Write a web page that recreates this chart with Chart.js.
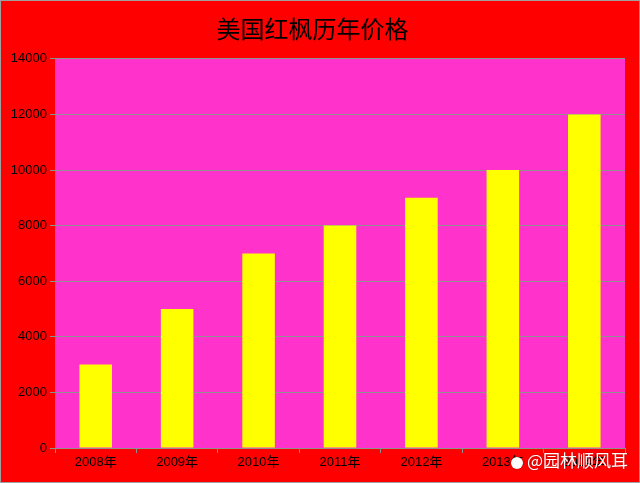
<!DOCTYPE html>
<html>
<head>
<meta charset="utf-8">
<script src="https://cdn.jsdelivr.net/npm/chart.js@4/dist/chart.umd.min.js"></script>
<style>
	html, body { margin: 0; padding: 0; background: #ff0000; }
	#wrap { width: 640px; height: 483px; }
</style>
</head>
<body>
<div id="wrap"><canvas id="chart" width="640" height="483"></canvas></div>
<script>
const years = ["2008年", "2009年", "2010年", "2011年", "2012年", "2013年", "2014年"];
const prices = [3000, 5000, 7000, 8000, 9000, 10000, 12000];
const yTicks = [0, 2000, 4000, 6000, 8000, 10000, 12000, 14000];

const backgroundPlugin = {
	id: 'backgrounds',
	beforeDraw: (chart) => {
		const {ctx, chartArea} = chart;
		ctx.save();
		ctx.fillStyle = '#ff0000';
		ctx.fillRect(0, 0, chart.width, chart.height);
		ctx.fillStyle = '#ff33cc';
		ctx.fillRect(chartArea.left, chartArea.top, chartArea.right - chartArea.left, chartArea.bottom - chartArea.top);
		ctx.strokeStyle = '#a0a0a0';
		ctx.lineWidth = 1;
		ctx.strokeRect(0.5, 0.5, chart.width - 1, chart.height - 1);
		ctx.restore();
	},
	afterDraw: (chart) => {
		// watermark
		const {ctx} = chart;
		ctx.save();
		ctx.font = '17px "Noto Sans CJK SC"';
		ctx.fillStyle = '#ffffff';
		ctx.shadowColor = 'rgba(0,0,0,0.35)';
		ctx.shadowBlur = 2;
		ctx.textBaseline = 'middle';
		ctx.fillText('@园林顺风耳', 527, 461);
		ctx.beginPath();
		ctx.arc(517, 463, 6, 0, Math.PI * 2);
		ctx.fill();
		ctx.restore();
	}
};

const tickFont = {family: '"Liberation Sans", "Noto Sans CJK SC"', size: 13};

new Chart(document.getElementById('chart'), {
	type: 'bar',
	data: {
		labels: years,
		datasets: [
			{
				label: '价格',
				data: prices,
				backgroundColor: '#ffff00',
				borderWidth: 0,
				barPercentage: 0.4,
				categoryPercentage: 1
			}
		]
	},
	options: {
		responsive: false,
		animation: false,
		layout: {padding: {left: 0, right: 15, top: 0, bottom: 0}},
		plugins: {
			legend: {display: false},
			tooltip: {enabled: false},
			title: {
				display: true,
				text: '美国红枫历年价格',
				color: '#000000',
				font: {family: '"Noto Sans CJK SC"', size: 24, weight: 'normal'},
				padding: {top: 14, bottom: 16}
			}
		},
		scales: {
			x: {
				afterFit: (scale) => { scale.height = 35; },
				grid: {
					offset: true,
					drawOnChartArea: false,
					drawTicks: true,
					tickLength: 5,
					color: '#909090'
				},
				border: {display: true, color: '#909090'},
				ticks: {color: '#000000', font: tickFont, padding: 2}
			},
			y: {
				min: 0,
				max: 14000,
				afterFit: (scale) => { scale.width = 55; },
				afterBuildTicks: (scale) => { scale.ticks = yTicks.map(v => ({value: v})); },
				grid: {
					color: '#909090',
					tickLength: 5,
					drawTicks: true
				},
				border: {display: false},
				ticks: {
					color: '#000000',
					font: tickFont,
					padding: 3,
					callback: (value) => String(value)
				}
			}
		}
	},
	plugins: [backgroundPlugin]
});
</script>
</body>
</html>
